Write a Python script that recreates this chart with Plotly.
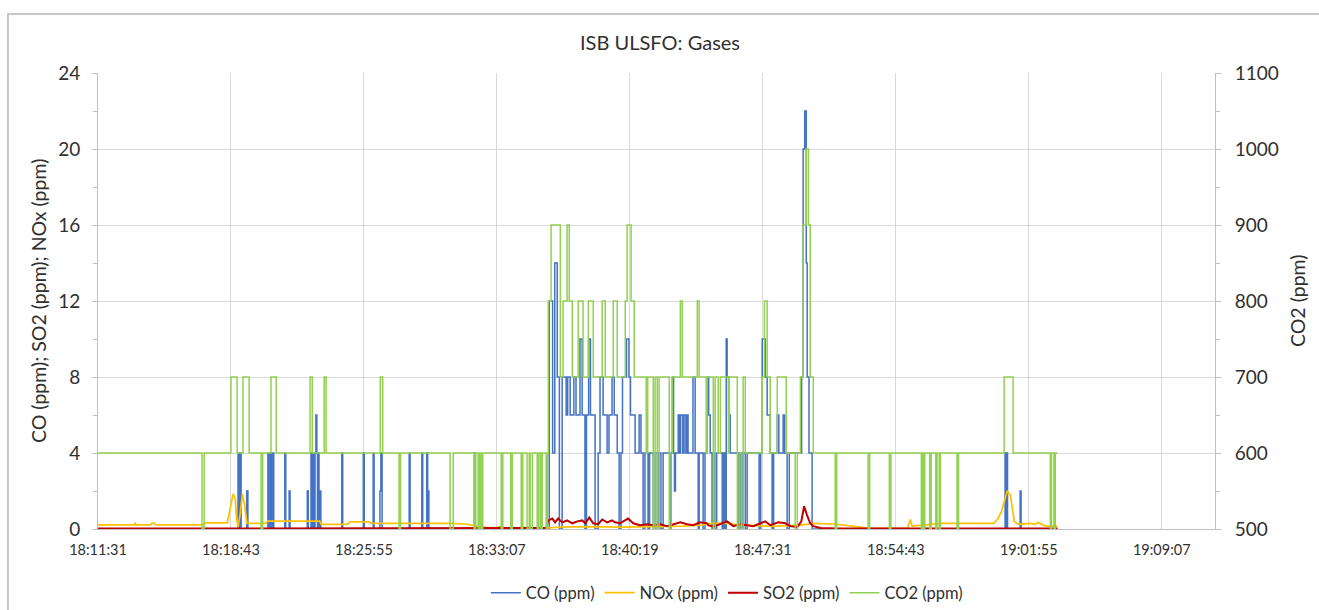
import pandas as pd
import plotly.graph_objects as go

# time offsets in seconds after 18:11:31, value
co_points = [(0, 0),
    (455, 4), (458, 0), (461, 4), (465, 0), (483, 2), (487, 0),
    (552, 4), (555, 0), (560, 4), (563, 0), (568, 4), (571, 0),
    (607, 4), (610, 0), (621, 2), (624, 0), (680, 2), (683, 0),
    (692, 4), (695, 0), (699, 4), (702, 0), (705, 4), (708, 6), (711, 4), (713, 0),
    (715, 4), (718, 0), (720, 2), (724, 0), (792, 4), (795, 0),
    (862, 4), (865, 0), (894, 4), (897, 0), (916, 2), (919, 4), (923, 0),
    (1011, 4), (1014, 0), (1052, 4), (1055, 0), (1068, 4), (1071, 0), (1072, 2), (1075, 0),
    (1223, 4), (1226, 0),
    (1466, 12), (1477, 4), (1484, 14), (1492, 8), (1499, 0), (1508, 8), (1521, 6), (1526, 8),
    (1534, 6), (1546, 8), (1553, 6), (1566, 10), (1573, 6), (1582, 0), (1587, 6), (1594, 10),
    (1600, 6), (1615, 0), (1625, 4), (1631, 8), (1641, 6), (1654, 4), (1660, 6), (1670, 8),
    (1677, 6), (1687, 4), (1693, 0), (1699, 4), (1704, 8), (1717, 10), (1725, 8), (1730, 6),
    (1745, 4), (1758, 6), (1764, 4), (1771, 0), (1777, 4), (1787, 0), (1792, 4), (1804, 0),
    (1810, 4), (1817, 0), (1821, 4), (1829, 0), (1836, 4), (1858, 0), (1862, 4), (1866, 8),
    (1870, 4), (1873, 2), (1876, 4), (1885, 6), (1890, 4), (1893, 6), (1900, 4), (1904, 6),
    (1910, 4), (1913, 6), (1917, 4), (1933, 8), (1940, 4), (1950, 0), (1953, 4), (1966, 0),
    (1972, 4), (1979, 8), (1984, 6), (1989, 4), (1995, 0), (2000, 4), (2005, 0), (2010, 4),
    (2028, 0), (2033, 4), (2038, 0), (2041, 10), (2044, 8), (2049, 6), (2054, 4), (2080, 0),
    (2086, 4), (2091, 0), (2096, 4), (2103, 0), (2109, 4), (2148, 0), (2153, 4), (2158, 10),
    (2168, 8), (2174, 6), (2184, 4), (2190, 0), (2195, 4), (2207, 6), (2212, 4), (2226, 6),
    (2231, 4), (2239, 0), (2246, 4), (2286, 8), (2291, 20), (2296, 22), (2301, 14), (2304, 8),
    (2310, 4), (2320, 0),
    (2947, 4), (2950, 0), (2952, 4), (2955, 0), (2996, 2), (2999, 0), (3117, 0)]

nox_points = [(0, 0.22), (118, 0.22), (121, 0.3), (124, 0.22), (172, 0.22), (175, 0.3), (184, 0.3),
    (187, 0.22), (340, 0.22), (352, 0.32), (420, 0.32), (430, 1.2), (439, 1.85), (446, 1.6),
    (450, 0.6), (455, 0.1), (462, 0.8), (469, 1.85), (476, 1.3), (484, 0.3), (545, 0.3),
    (552, 0.42), (720, 0.42), (725, 0.25), (810, 0.25), (820, 0.38), (880, 0.38), (890, 0.3),
    (1150, 0.3), (1200, 0.25), (1225, 0.15), (1250, 0.1), (1290, 0.05), (1310, 0.15), (1320, 0.05),
    (1370, 0.05), (1380, 0.12), (1390, 0.05), (1450, 0.05), (1500, 0.1), (1600, 0.12), (1700, 0.1),
    (1800, 0.12), (1900, 0.15), (1960, 0.2), (1990, 0.3), (2050, 0.3), (2080, 0.2), (2200, 0.15),
    (2280, 0.2), (2330, 0.3), (2400, 0.25), (2450, 0.15), (2500, 0.05), (2630, 0.03), (2639, 0.5),
    (2645, 0.15), (2680, 0.2), (2720, 0.25), (2740, 0.3), (2910, 0.3), (2922, 0.5), (2935, 0.9),
    (2954, 2.0), (2964, 1.8), (2977, 0.4), (2990, 0.25), (3030, 0.3), (3045, 0.25), (3055, 0.35),
    (3065, 0.25), (3080, 0.15), (3117, 0.15)]

so2_points = [(0, 0.02), (1450, 0.02), (1456, 0.05), (1463, 0.45), (1476, 0.55), (1485, 0.35),
    (1495, 0.55), (1508, 0.35), (1524, 0.45), (1541, 0.3), (1557, 0.4), (1573, 0.45), (1583, 0.3),
    (1596, 0.6), (1609, 0.3), (1625, 0.25), (1638, 0.5), (1654, 0.35), (1670, 0.45), (1680, 0.35),
    (1696, 0.3), (1722, 0.55), (1739, 0.3), (1761, 0.2), (1784, 0.25), (1804, 0.2), (1826, 0.25),
    (1849, 0.15), (1869, 0.25), (1892, 0.35), (1914, 0.25), (1934, 0.2), (1956, 0.35), (1979, 0.3),
    (1982, 0.2), (1995, 0.15), (2012, 0.2), (2044, 0.4), (2064, 0.15), (2086, 0.25), (2109, 0.2),
    (2129, 0.15), (2168, 0.4), (2184, 0.2), (2210, 0.35), (2233, 0.3), (2249, 0.15), (2272, 0.1),
    (2285, 0.4), (2294, 1.2), (2304, 0.7), (2314, 0.3), (2324, 0.15), (2347, 0.05), (2400, 0.02),
    (3117, 0.02)]

co2_points = [(0, 600),
    (338, 500), (345, 600), (432, 700), (452, 600), (471, 700), (491, 600), (530, 500), (535, 600),
    (562, 700), (579, 600), (689, 700), (696, 600), (735, 700), (741, 600), (917, 700), (925, 600),
    (978, 500), (983, 600), (1144, 500), (1154, 600), (1222, 500), (1227, 600), (1235, 500),
    (1240, 600), (1245, 500), (1250, 600), (1310, 500), (1315, 600), (1341, 500), (1346, 600),
    (1375, 500), (1380, 600), (1394, 500), (1401, 600), (1404, 500), (1411, 600), (1427, 500),
    (1432, 600), (1438, 500), (1443, 600), (1456, 500), (1460, 600),
    (1463, 800), (1472, 900), (1502, 700), (1511, 800), (1524, 900), (1531, 800), (1541, 700),
    (1560, 800), (1576, 700), (1593, 800), (1609, 700), (1638, 800), (1648, 700), (1674, 800),
    (1687, 700), (1713, 800), (1719, 900), (1732, 800), (1742, 700), (1781, 600), (1786, 700),
    (1804, 500), (1810, 700), (1817, 500), (1823, 700), (1856, 500), (1862, 600), (1866, 700),
    (1892, 800), (1898, 700), (1947, 800), (1953, 700), (1976, 600), (1979, 700), (1999, 500),
    (2005, 700), (2015, 600), (2022, 700), (2048, 600), (2051, 700), (2077, 500), (2083, 600),
    (2090, 500), (2096, 700), (2103, 600), (2158, 700), (2165, 800), (2174, 700), (2184, 600),
    (2207, 700), (2236, 600), (2265, 500), (2272, 600), (2282, 700), (2291, 900), (2301, 1000),
    (2308, 900), (2314, 700), (2324, 600), (2395, 500), (2400, 600), (2502, 500), (2507, 600),
    (2571, 500), (2576, 600), (2675, 500), (2679, 600), (2682, 500), (2686, 600), (2702, 500),
    (2707, 600), (2722, 500), (2726, 600), (2733, 500), (2737, 600), (2791, 500), (2796, 600),
    (2944, 700), (2973, 600), (3094, 500), (3098, 600), (3106, 500), (3110, 600), (3117, 600)]

start = pd.Timestamp("2021-01-01 18:11:31")
end = pd.Timestamp("2021-01-01 19:12:00")


def series(points):
    t, v = zip(*points)
    return start + pd.to_timedelta(list(t), unit="s"), list(v)


font = "Lato, Open Sans, sans-serif"
txt = "#303030"
fig = go.Figure()

x, y = series(co_points)
fig.add_trace(go.Scatter(x=x, y=y, name="CO (ppm)", mode="lines", line_shape="hv",
                         line=dict(color="#4472C4", width=1.5)))
x, y = series(nox_points)
fig.add_trace(go.Scatter(x=x, y=y, name="NOx (ppm)", mode="lines",
                         line=dict(color="#FFC000", width=1.75)))
x, y = series(so2_points)
fig.add_trace(go.Scatter(x=x, y=y, name="SO2 (ppm)", mode="lines",
                         line=dict(color="#C00000", width=2)))
x, y = series(co2_points)
fig.add_trace(go.Scatter(x=x, y=y, name="CO2 (ppm)", mode="lines", line_shape="hv", yaxis="y2",
                         line=dict(color="#92D050", width=1.5)))

fig.update_layout(
    width=1319, height=610,
    margin=dict(l=98, r=104, t=73, b=81, autoexpand=False),
    paper_bgcolor="white", plot_bgcolor="white",
    font=dict(family=font, color=txt),
    showlegend=True,
    legend=dict(orientation="h", x=0.563, xanchor="center", yref="container", y=0.028,
                yanchor="middle", font=dict(size=16.5, color=txt), traceorder="normal"),
    xaxis=dict(type="date", range=[start, end], tick0=start, dtick=432000,
               tickformat="%H:%M:%S", showgrid=True, gridcolor="#d9d9d9", gridwidth=1,
               showline=True, linecolor="#bfbfbf", ticks="", tickfont=dict(size=14.5),
               ticklabelstandoff=8, zeroline=False),
    yaxis=dict(range=[0, 24], dtick=4, showgrid=True, gridcolor="#d9d9d9",
               showline=True, linecolor="#bfbfbf", ticks="outside", ticklen=5,
               tickcolor="#bfbfbf", tickfont=dict(size=19), ticklabelstandoff=8,
               zeroline=False,
               minor=dict(dtick=2, ticks="outside", ticklen=4, tickcolor="#bfbfbf")),
    yaxis2=dict(range=[500, 1100], dtick=100, overlaying="y", side="right", showgrid=False,
                showline=True, linecolor="#bfbfbf", ticks="outside", ticklen=5,
                tickcolor="#bfbfbf", tickfont=dict(size=19), ticklabelstandoff=10,
                zeroline=False,
                minor=dict(dtick=50, ticks="outside", ticklen=4, tickcolor="#bfbfbf")),
    annotations=[
        dict(text="ISB ULSFO: Gases", xref="paper", yref="paper", x=0.503, y=1.068,
             xanchor="center", yanchor="middle", showarrow=False,
             font=dict(size=20, color=txt)),
        dict(text="CO (ppm); SO2 (ppm); NOx (ppm)", xref="paper", yref="paper", x=-0.0537,
             y=0.5, xanchor="center", yanchor="middle", textangle=-90, showarrow=False,
             font=dict(size=19.5, color=txt)),
        dict(text="CO2 (ppm)", xref="paper", yref="paper", x=1.0734, y=0.5,
             xanchor="center", yanchor="middle", textangle=-90, showarrow=False,
             font=dict(size=19.5, color=txt)),
    ],
    shapes=[dict(type="rect", xref="paper", yref="paper", x0=-0.0806, x1=1.2, y0=-0.4,
                 y1=1.1294, line=dict(color="#c8c8c8", width=2), fillcolor="rgba(0,0,0,0)")],
)

fig.write_html("out.html", config={"displayModeBar": False},
               post_script="document.body.style.margin='0';")
